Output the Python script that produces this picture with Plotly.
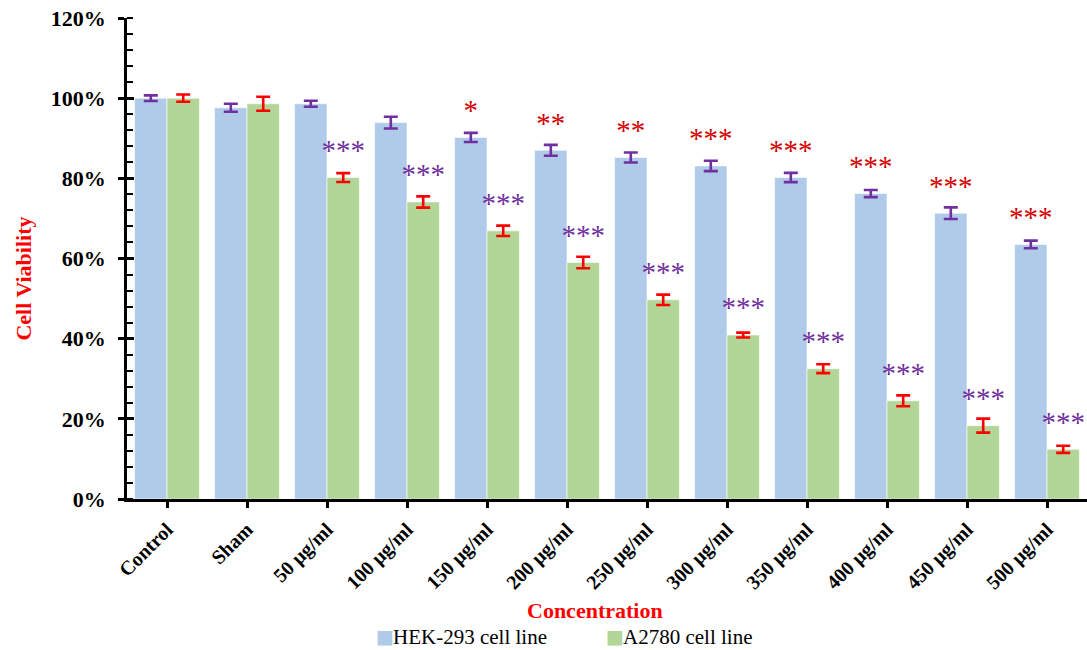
import plotly.graph_objects as go

categories = ["Control", "Sham", "50 µg/ml", "100 µg/ml", "150 µg/ml", "200 µg/ml",
              "250 µg/ml", "300 µg/ml", "350 µg/ml", "400 µg/ml", "450 µg/ml", "500 µg/ml"]

hek_name = "HEK-293 cell line"
hek_values = [100.0, 97.6, 98.6, 93.9, 90.2, 87.0, 85.2, 83.1, 80.2, 76.2, 71.3, 63.5]
hek_errors = [0.7, 1.0, 0.75, 1.45, 1.15, 1.35, 1.25, 1.3, 1.15, 0.9, 1.45, 0.95]
hek_stars = ["", "", "", "", "*", "**", "**", "***", "***", "***", "***", "***"]

a2780_name = "A2780 cell line"
a2780_values = [100.0, 98.6, 80.2, 74.1, 66.9, 59.0, 49.7, 40.9, 32.5, 24.5, 18.3, 12.4]
a2780_errors = [0.9, 1.75, 1.1, 1.4, 1.3, 1.45, 1.3, 0.6, 1.1, 1.35, 1.75, 0.9]
a2780_stars = ["", "", "***", "***", "***", "***", "***", "***", "***", "***", "***", "***"]

y_ticks = [0, 20, 40, 60, 80, 100, 120]

BLUE = "rgb(175,203,233)"
GREEN = "rgb(178,213,152)"
PURPLE = "#7030A0"
RED_ERR = "#FF0000"
RED_STAR = "#D40000"
SERIF = "Liberation Serif"

x_idx = list(range(len(categories)))
half = 0.2025
star_offset = 6.2

fig = go.Figure()

fig.add_trace(go.Bar(
    x=x_idx, y=hek_values, name=hek_name, showlegend=False,
    marker=dict(color=BLUE, line=dict(color="rgba(255,255,255,0.6)", width=1)),
    error_y=dict(type="data", array=hek_errors, color=PURPLE, thickness=2.6, width=7),
))
fig.add_trace(go.Bar(
    x=x_idx, y=a2780_values, name=a2780_name, showlegend=False,
    marker=dict(color=GREEN, line=dict(color="rgba(255,255,255,0.6)", width=1)),
    error_y=dict(type="data", array=a2780_errors, color=RED_ERR, thickness=2.6, width=7),
))

# significance markers above each bar
fig.add_trace(go.Scatter(
    x=[i - half for i in x_idx], y=[v + star_offset for v in hek_values],
    text=hek_stars, mode="text", showlegend=False, hoverinfo="skip",
    textfont=dict(family=SERIF, size=29, color=RED_STAR),
))
fig.add_trace(go.Scatter(
    x=[i + half for i in x_idx], y=[v + star_offset for v in a2780_values],
    text=a2780_stars, mode="text", showlegend=False, hoverinfo="skip",
    textfont=dict(family=SERIF, size=29, color=PURPLE),
))

# invisible trace carrying the inner half of the major y ticks
fig.add_trace(go.Scatter(x=[0], y=[0], yaxis="y2", mode="markers",
                         marker=dict(opacity=0), showlegend=False, hoverinfo="skip"))


def legend_entry(color, label, x):
    """Colour swatch followed by the series name, laid out below the axis title."""
    swatch = dict(text="■", xref="paper", yref="paper", x=x, y=-0.285,
                  xanchor="left", yanchor="middle", showarrow=False,
                  font=dict(family="DejaVu Sans", size=19, color=color))
    name = dict(text=label, xref="paper", yref="paper", x=x + 0.0175, y=-0.287,
                xanchor="left", yanchor="middle", showarrow=False,
                font=dict(family=SERIF, size=21, color="black"))
    return [swatch, name]


fig.update_layout(
    width=1087, height=650,
    margin=dict(l=127, r=0, t=18, b=151),
    plot_bgcolor="white", paper_bgcolor="white",
    barmode="group", bargap=0.19, bargroupgap=0,
    font=dict(family=SERIF, color="black"),
    showlegend=False,
    xaxis=dict(
        range=[-0.5, 11.5], tickmode="array", tickvals=x_idx, ticktext=categories,
        tickangle=-45, ticks="outside", ticklen=6, tickwidth=2.5, tickcolor="black",
        ticklabelstandoff=2,
        showline=True, linecolor="black", linewidth=2.8, showgrid=False, zeroline=False,
        tickfont=dict(family=SERIF, size=20, color="black", weight="bold"),
    ),
    yaxis=dict(
        range=[0, 120], tickmode="array", tickvals=y_ticks,
        ticktext=[f"{t}%" for t in y_ticks],
        ticks="outside", ticklen=6, tickwidth=2.5, tickcolor="black",
        ticklabelstandoff=8,
        minor=dict(ticks="inside", ticklen=6, tickwidth=2, tickcolor="black", dtick=4, tick0=0),
        showline=True, linecolor="black", linewidth=2.8, showgrid=False, zeroline=False,
        tickfont=dict(family=SERIF, size=22, color="black", weight="bold"),
    ),
    yaxis2=dict(
        overlaying="y", side="left", range=[0, 120], tickmode="array", tickvals=y_ticks,
        ticks="inside", ticklen=7, tickwidth=2.5, tickcolor="black",
        showticklabels=False, showgrid=False, zeroline=False, showline=False,
    ),
    annotations=[
        dict(text="Concentration", xref="paper", yref="paper", x=0.4875, y=-0.2308,
             xanchor="center", yanchor="middle", showarrow=False,
             font=dict(family=SERIF, size=22, color="#FF0000", weight="bold")),
        dict(text="Cell Viability", xref="paper", yref="paper", x=-0.108, y=0.459,
             xanchor="center", yanchor="middle", showarrow=False, textangle=-90,
             font=dict(family=SERIF, size=22, color="#FF0000", weight="bold")),
        *legend_entry(BLUE, hek_name, 0.257),
        *legend_entry(GREEN, a2780_name, 0.497),
    ],
)

fig.write_html("out.html")
